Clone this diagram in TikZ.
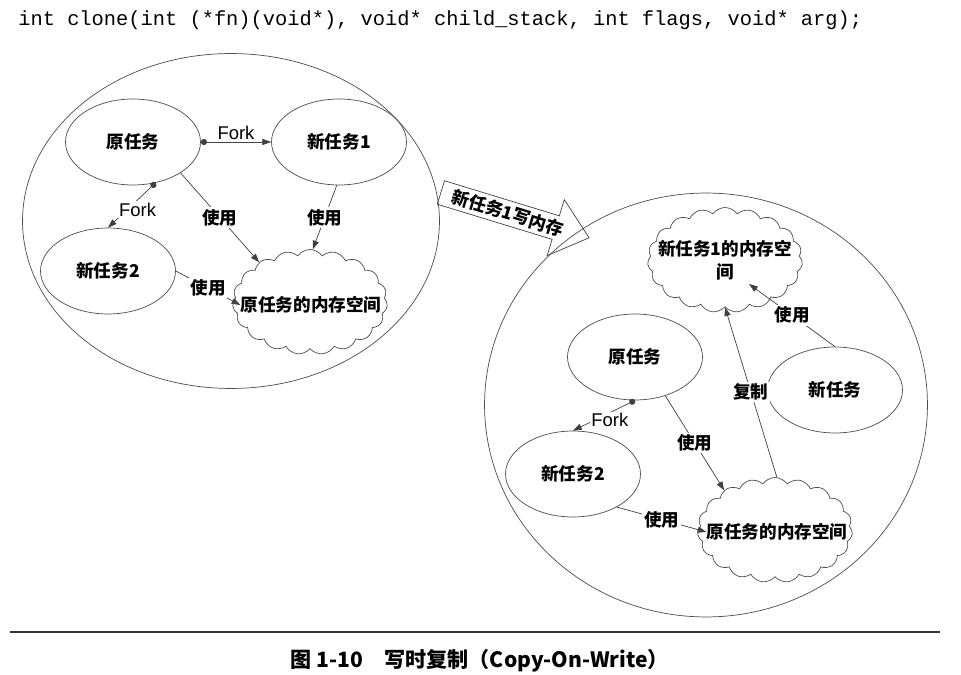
\documentclass[tikz,border=0pt]{standalone}
\usepackage{fontspec}
\setmainfont{Noto Sans CJK SC}
\newfontfamily\codefont{Liberation Mono}
\newfontfamily\forkfont{Liberation Sans}
\usetikzlibrary{shapes.geometric,shapes.symbols,shapes.arrows,arrows.meta}
\tikzset{
  zh/.style={font=\bfseries\fontsize{10}{13}\selectfont},
  task/.style={ellipse,draw=black!70,minimum width=2.7cm,minimum height=1.72cm,inner sep=0pt,zh},
  mem/.style={cloud,draw=black!70,cloud puffs=19,cloud puff arc=110,aspect=1.48,minimum width=3.1cm,minimum height=2.1cm,inner sep=0pt},
  memtext/.style={zh,align=center,inner sep=0pt},
  world/.style={ellipse,draw=black!70,inner sep=0pt},
  link/.style={draw=black!75,line width=0.4pt,-{Triangle[length=5pt,width=3.5pt]}},
  forklink/.style={link,{Circle[length=3.5pt]}-{Triangle[length=5pt,width=3.5pt]}},
  lbl/.style={fill=white,inner sep=1pt,zh},
  forklbl/.style={fill=white,inner sep=1pt,font=\forkfont\fontsize{10.5}{12}\selectfont},
}
\begin{document}
\begin{tikzpicture}[x=0.02cm,y=-0.02cm]
  \useasboundingbox (0,0) rectangle (961,675);
  \node[anchor=west,inner sep=0pt,font=\codefont\fontsize{11.6}{13}\selectfont] (code) at (18,20)
    {int clone(int (*fn)(void*), void* child\_stack, int flags, void* arg);};
  % before the write
  \node[world,minimum width=8.34cm,minimum height=6.7cm] (worldL) at (231,221) {};
  \node[task] (origL) at (133,142) {原任务};
  \node[task] (newaL) at (339,142) {新任务1};
  \node[task] (newbL) at (108,271) {新任务2};
  \node[mem] (memL) at (310,302) {};
  \node[memtext] (memLtxt) at (311,305) {原任务的内存空间};
  \draw[forklink] (origL.east) -- (newaL.west) node[midway,above,forklbl,fill=none] {Fork};
  \draw[forklink] (origL.-61) -- (newbL.north) node[pos=0.6,forklbl,xshift=6pt] {Fork};
  \draw[link] (origL.-33) -- (memL.142) node[midway,lbl] {使用};
  \draw[link] (newaL.-93) -- (memL.87) node[midway,lbl] {使用};
  \draw[link] (newbL.east) -- (memLtxt.west) node[midway,lbl] {使用};
  % write by new task 1
  \node[single arrow,draw=black!75,rotate=-17,zh,inner sep=2pt,minimum height=3.1cm,single arrow head extend=0.34cm,single arrow tip angle=80] (write) at (508,213) {新任务1写内存};
  % after the write
  \node[world,minimum width=8.86cm,minimum height=8.48cm] (worldR) at (706,405) {};
  \node[mem] (memA) at (725,260) {};
  \node[memtext] (memAtxt) at (725,260) {新任务1的内存空\\间};
  \node[task] (origR) at (635,357) {原任务};
  \node[task] (newR) at (835,390) {新任务};
  \node[task] (newbR) at (573,474) {新任务2};
  \node[mem] (memR) at (775,530) {};
  \node[memtext] (memRtxt) at (777,532) {原任务的内存空间};
  \coordinate (useA) at (749,284);
  \draw[forklink] (origR.south) -- (newbR.north) node[pos=0.66,forklbl,xshift=9pt] {Fork};
  \draw[link] (origR.-52) -- (memR.142) node[midway,lbl] {使用};
  \draw[link] (newbR.-37) -- (memRtxt.west) node[midway,lbl] {使用};
  \draw[link] (memR.88) -- (memA.south) node[midway,lbl] {复制};
  \draw[link] (newR.north) -- (useA) node[midway,lbl] {使用};
  % caption
  \draw[line width=0.9pt,black!80] (10,632) -- (940,632);
  \node[font=\bfseries\fontsize{12}{14}\selectfont] (caption) at (480,661) {图 1-10\quad 写时复制（Copy-On-Write）};
\end{tikzpicture}
\end{document}
